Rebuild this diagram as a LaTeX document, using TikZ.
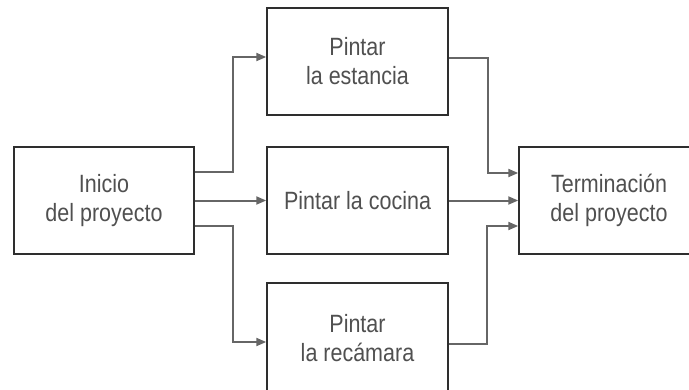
\documentclass[tikz,border=0pt]{standalone}
\usepackage{fontspec}
\setmainfont[FakeStretch=0.86]{Liberation Sans}
\usetikzlibrary{arrows.meta}
\definecolor{txt}{HTML}{505050}
\definecolor{ln}{HTML}{666666}
\definecolor{bx}{HTML}{2E2E2E}
\begin{document}
\begin{tikzpicture}[x=1pt,y=-1pt,
  boxst/.style={draw=bx,line width=1.5pt,text=txt,align=center,inner sep=0pt,
    font=\fontsize{25}{29}\selectfont},
  conn/.style={draw=ln,line width=2pt,-{Triangle[length=10pt,width=8pt]}}]
\useasboundingbox (0,0) rectangle (689,389);
\clip (0,0) rectangle (689,389);
\node[boxst,minimum width=180pt,minimum height=107pt] (ini) at (104,200.5) {Inicio\\del proyecto};
\node[boxst,minimum width=181pt,minimum height=107pt] (est) at (357.5,61.5) {Pintar\\la estancia};
\node[boxst,minimum width=181pt,minimum height=107pt] (coc) at (357.5,200.5) {Pintar la cocina};
\node[boxst,minimum width=181pt,minimum height=113pt,text depth=3pt] (rec) at (357.5,339.5) {Pintar\\la recámara};
\node[boxst,minimum width=180pt,minimum height=107pt] (fin) at (609,200.5) {Terminación\\del proyecto};
\coordinate (a1) at (233,172);
\coordinate (a2) at (233,57);
\coordinate (b1) at (233,226);
\coordinate (b2) at (233,342);
\draw[conn] (ini.east |- a1) -- (a1) -- (a2) -- (est.west |- a2);
\draw[conn] (ini.east) -- (coc.west);
\draw[conn] (ini.east |- b1) -- (b1) -- (b2) -- (rec.west |- b2);
\coordinate (c1) at (488,58);
\coordinate (c2) at (488,173);
\coordinate (d1) at (487,344);
\coordinate (d2) at (487,226);
\draw[conn] (est.east |- c1) -- (c1) -- (c2) -- (fin.west |- c2);
\draw[conn] (coc.east) -- (fin.west);
\draw[conn] (rec.east |- d1) -- (d1) -- (d2) -- (fin.west |- d2);
\end{tikzpicture}
\end{document}
